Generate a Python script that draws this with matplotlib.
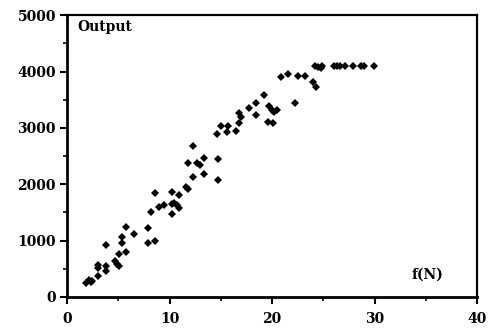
import matplotlib
matplotlib.use("Agg")
import matplotlib.pyplot as plt
from matplotlib.ticker import MultipleLocator

# ---------------------------- ДАННЫЕ ------------------------------- #
f_n = [1.9, 2.1, 2.3, 2.4,
       3.05, 3.05, 3.05,
       3.8, 3.8, 3.8,
       4.7, 4.9, 5.1, 5.1,
       5.4, 5.4, 5.8, 5.8, 6.5,
       7.9, 7.9, 8.2, 8.6, 8.6,
       9.0, 9.5,
       10.2, 10.2, 10.2, 10.4, 10.7, 10.95, 10.95,
       11.6, 11.8, 11.8, 12.3, 12.3, 12.7, 13.0, 13.4, 13.4,
       14.7, 14.7, 14.6, 15.0, 15.6, 15.7, 16.5,
       16.8, 16.95, 16.8, 17.8, 18.4, 18.4, 19.2,
       19.7, 20.0, 20.2, 20.45, 19.6, 20.1,
       20.85, 21.6, 22.5, 23.2, 22.2,
       24.0, 24.3,
       24.2, 24.5, 24.75, 24.85,
       26.0, 26.3, 26.6, 27.1, 27.9, 28.65, 28.98, 29.95]

output = [240, 310, 260, 290,
          370, 510, 570,
          460, 550, 920,
          630, 590, 550, 770,
          960, 1060, 800, 1250, 1120,
          960, 1220, 1510, 990, 1850,
          1600, 1640,
          1470, 1650, 1870, 1660, 1630, 1570, 1810,
          1960, 1910, 2370, 2130, 2670, 2370, 2340, 2180, 2470,
          2070, 2440, 2890, 3030, 2930, 3040, 2950,
          3260, 3200, 3090, 3350, 3230, 3450, 3590,
          3390, 3320, 3290, 3320, 3100, 3080,
          3910, 3950, 3920, 3920, 3450,
          3820, 3720,
          4100, 4080, 4060, 4100,
          4100, 4100, 4100, 4100, 4100, 4100, 4100, 4100]

X_TICKS = [0, 10, 20, 30, 40]
Y_TICKS = [0, 1000, 2000, 3000, 4000, 5000]

# --------------------------- ГРАФИК -------------------------------- #
plt.rcParams["font.family"] = "DejaVu Serif"
plt.rcParams["font.weight"] = "bold"

fig = plt.figure(figsize=(4.91, 3.29), dpi=100)
ax = fig.add_axes([0.1365, 0.0973, 0.835, 0.8567])

ax.plot(f_n, output, linestyle="none", marker="D", markersize=3.8,
        color="black", markeredgewidth=0)

ax.set_xlim(0, 40)
ax.set_ylim(0, 5000)
ax.set_xticks(X_TICKS)
ax.set_yticks(Y_TICKS)
ax.xaxis.set_minor_locator(MultipleLocator(5))
ax.yaxis.set_minor_locator(MultipleLocator(500))

ax.tick_params(axis="both", which="major", direction="out", length=5,
               width=1.5, labelsize=10, pad=3)
ax.tick_params(axis="x", which="major", pad=6)
ax.tick_params(axis="both", which="minor", direction="out", length=3,
               width=1.2)
ax.tick_params(top=False, right=False)
for lab in ax.get_xticklabels() + ax.get_yticklabels():
    lab.set_fontweight("bold")

for side in ("left", "bottom"):
    ax.spines[side].set_linewidth(2.0)
for side in ("top", "right"):
    ax.spines[side].set_linewidth(1.6)

ax.text(1.0, 4790, "Output", fontsize=10, fontweight="bold",
        va="center", ha="left")
ax.text(35.2, 390, "f(N)", fontsize=10, fontweight="bold",
        va="center", ha="center")

fig.savefig("out.png", dpi=100)
